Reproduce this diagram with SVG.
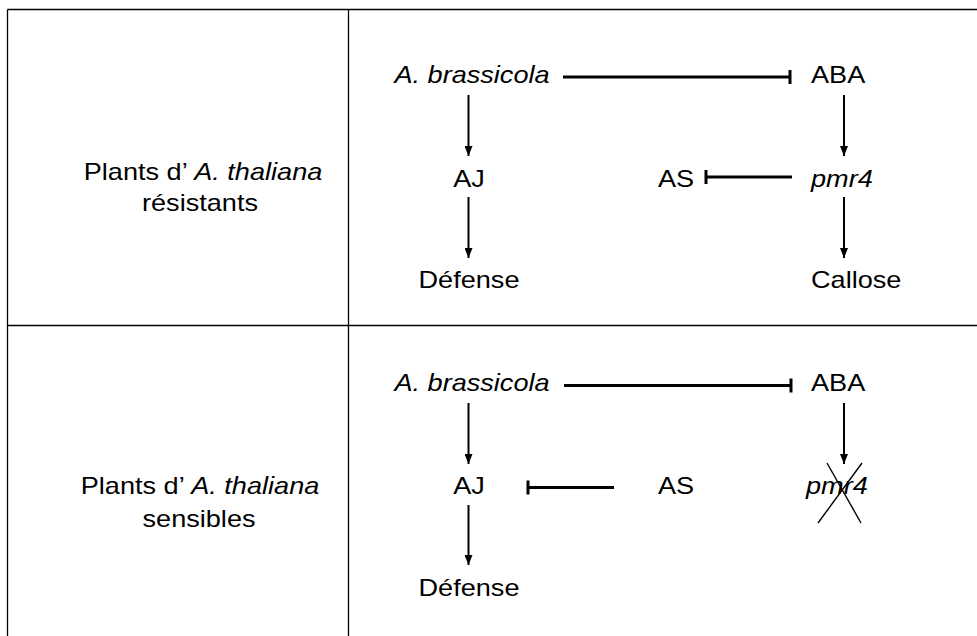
<svg xmlns="http://www.w3.org/2000/svg" width="977" height="636" viewBox="0 0 977 636">
  <style>
    .grid { stroke: #000; stroke-width: 1.3; fill: none; }
    .lbl { font-family: "Liberation Sans", Arial, sans-serif; font-size: 24px; fill: #000; }
    .it { font-style: italic; }
    .act { stroke: #000; stroke-width: 2; fill: none; marker-end: url(#arrow); }
    .inh { stroke: #000; stroke-width: 3; fill: none; marker-end: url(#tee); }
    .cross { stroke: #000; stroke-width: 1.4; fill: none; }
  </style>
  <defs>
    <marker id="arrow" markerUnits="userSpaceOnUse" viewBox="0 0 10 8" refX="10" refY="4" markerWidth="10" markerHeight="8" orient="auto">
      <path d="M0,0 L10,4 L0,8 Z" fill="#000"/>
    </marker>
    <marker id="tee" markerUnits="userSpaceOnUse" viewBox="-2 -8 4 16" refX="0" refY="0" markerWidth="4" markerHeight="16" orient="auto">
      <line x1="0" y1="-7" x2="0" y2="7" stroke="#000" stroke-width="3"/>
    </marker>
  </defs>

  <!-- table rules -->
  <g id="table">
    <line class="grid" x1="7.5" y1="9.5" x2="977" y2="9.5"/>
    <line class="grid" x1="7.5" y1="9.5" x2="7.5" y2="636"/>
    <line class="grid" x1="348.5" y1="9.5" x2="348.5" y2="636"/>
    <line class="grid" x1="7.5" y1="325.5" x2="977" y2="325.5"/>
  </g>

  <!-- row labels -->
  <g id="row1-label" class="lbl">
    <text transform="translate(203,180) scale(1.13,1)" text-anchor="middle">Plants d’ <tspan class="it">A. thaliana</tspan></text>
    <text transform="translate(200,211) scale(1.13,1)" text-anchor="middle">résistants</text>
  </g>
  <g id="row2-label" class="lbl">
    <text transform="translate(200,494) scale(1.13,1)" text-anchor="middle">Plants d’ <tspan class="it">A. thaliana</tspan></text>
    <text transform="translate(199,527) scale(1.13,1)" text-anchor="middle">sensibles</text>
  </g>

  <!-- row 1 nodes : resistant plants -->
  <g id="r1-abrassicola" class="lbl"><text class="it" transform="translate(472,83) scale(1.13,1)" text-anchor="middle">A. brassicola</text></g>
  <g id="r1-aba" class="lbl"><text transform="translate(811,83) scale(1.13,1)">ABA</text></g>
  <g id="r1-aj" class="lbl"><text transform="translate(469,187) scale(1.13,1)" text-anchor="middle">AJ</text></g>
  <g id="r1-as" class="lbl"><text transform="translate(676,187) scale(1.13,1)" text-anchor="middle">AS</text></g>
  <g id="r1-pmr4" class="lbl"><text class="it" transform="translate(811,187) scale(1.13,1)">pmr4</text></g>
  <g id="r1-defense" class="lbl"><text transform="translate(469,288) scale(1.13,1)" text-anchor="middle">Défense</text></g>
  <g id="r1-callose" class="lbl"><text transform="translate(811,288) scale(1.13,1)">Callose</text></g>

  <!-- row 2 nodes : susceptible plants -->
  <g id="r2-abrassicola" class="lbl"><text class="it" transform="translate(472,391) scale(1.13,1)" text-anchor="middle">A. brassicola</text></g>
  <g id="r2-aba" class="lbl"><text transform="translate(811,391) scale(1.13,1)">ABA</text></g>
  <g id="r2-aj" class="lbl"><text transform="translate(469,494) scale(1.13,1)" text-anchor="middle">AJ</text></g>
  <g id="r2-as" class="lbl"><text transform="translate(676,494) scale(1.13,1)" text-anchor="middle">AS</text></g>
  <g id="r2-pmr4" class="lbl">
    <text class="it" transform="translate(806,494) scale(1.13,1)">pmr4</text>
    <line class="cross" x1="827" y1="463" x2="861" y2="523"/>
    <line class="cross" x1="862" y1="463" x2="818" y2="523"/>
  </g>
  <g id="r2-defense" class="lbl"><text transform="translate(469,596) scale(1.13,1)" text-anchor="middle">Défense</text></g>

  <!-- connectors -->
  <g id="connectors">
    <!-- row 1 -->
    <line class="inh" x1="563" y1="77" x2="790" y2="77"/>
    <line class="act" x1="468.5" y1="95" x2="468.5" y2="156"/>
    <line class="act" x1="844" y1="95" x2="844" y2="156"/>
    <line class="inh" x1="792" y1="177" x2="706" y2="177"/>
    <line class="act" x1="468.5" y1="197" x2="468.5" y2="258"/>
    <line class="act" x1="844" y1="197" x2="844" y2="258"/>
    <!-- row 2 -->
    <line class="inh" x1="564" y1="385.5" x2="791" y2="385.5"/>
    <line class="act" x1="468.5" y1="403" x2="468.5" y2="464"/>
    <line class="act" x1="844" y1="403" x2="844" y2="464"/>
    <line class="inh" x1="614" y1="487.5" x2="528" y2="487.5"/>
    <line class="act" x1="468.5" y1="505" x2="468.5" y2="565"/>
  </g>
</svg>
